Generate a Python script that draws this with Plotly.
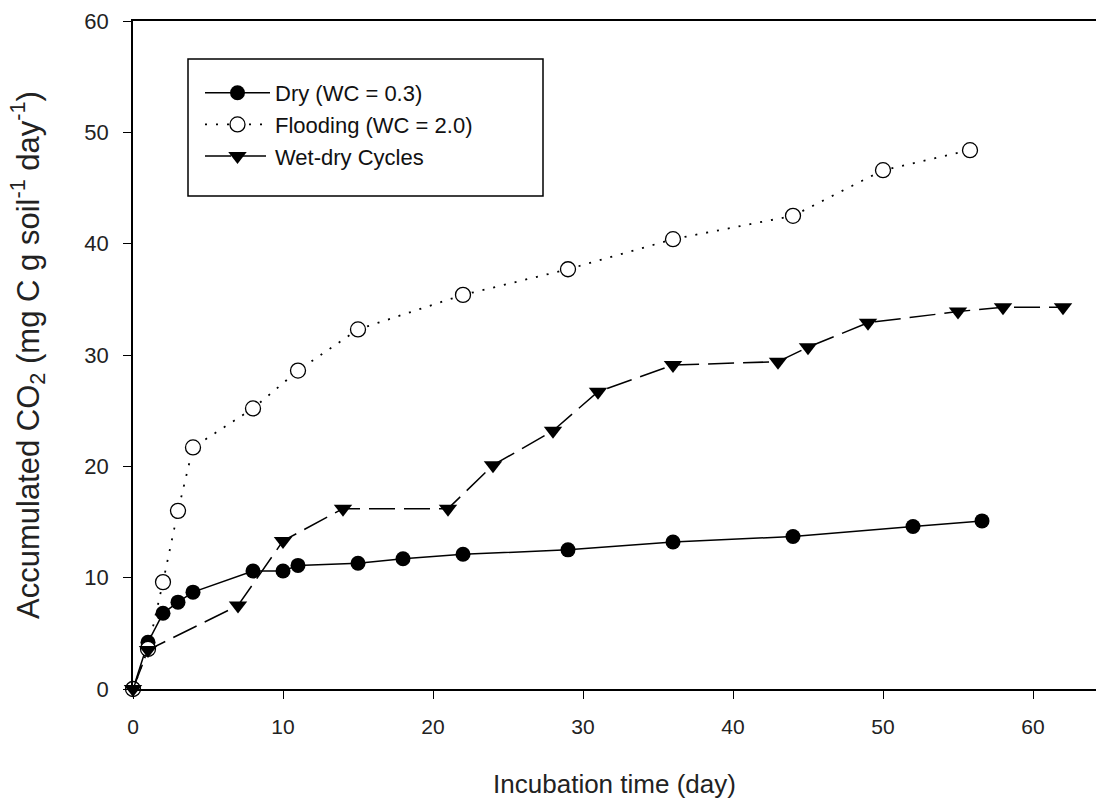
import plotly.graph_objects as go

# Data
dry_day = [0, 1, 2, 3, 4, 8, 10, 11, 15, 18, 22, 29, 36, 44, 52, 56.6]
dry_co2 = [0, 4.2, 6.8, 7.8, 8.7, 10.6, 10.6, 11.1, 11.3, 11.7, 12.1, 12.5, 13.2, 13.7, 14.6, 15.1]

flood_day = [0, 1, 2, 3, 4, 8, 11, 15, 22, 29, 36, 44, 50, 55.8]
flood_co2 = [0, 3.6, 9.6, 16.0, 21.7, 25.2, 28.6, 32.3, 35.4, 37.7, 40.4, 42.5, 46.6, 48.4]

wd_day = [0, 1, 7, 10, 14, 21, 24, 28, 31, 36, 43, 45, 49, 55, 58, 62]
wd_co2 = [0, 3.5, 7.5, 13.3, 16.2, 16.2, 20.1, 23.2, 26.7, 29.1, 29.4, 30.7, 32.9, 33.9, 34.3, 34.3]

x_ticks = [0, 10, 20, 30, 40, 50, 60]
y_ticks = [0, 10, 20, 30, 40, 50, 60]

FONT = "Liberation Sans, Arial, sans-serif"

fig = go.Figure()
fig.add_trace(go.Scatter(
    x=dry_day, y=dry_co2, mode="lines+markers", name="Dry (WC = 0.3)",
    line=dict(color="black", width=1.5, dash="solid"),
    marker=dict(symbol="circle", size=15, color="black"),
    cliponaxis=False, legendgroup="a"))
fig.add_trace(go.Scatter(
    x=flood_day, y=flood_co2, mode="lines+markers", name="Flooding (WC = 2.0)",
    line=dict(color="black", width=1.8, dash="2px,9px"),
    marker=dict(symbol="circle", size=15, color="white", line=dict(width=1.3, color="black")),
    cliponaxis=False, legendgroup="b"))
fig.add_trace(go.Scatter(
    x=wd_day, y=wd_co2, mode="lines+markers", name="Wet-dry Cycles",
    line=dict(color="black", width=1.5, dash="26px,9px"),
    marker=dict(symbol="triangle-down", size=16, color="black"),
    cliponaxis=False, legendgroup="c"))

W, H = 1096, 812
L, R, T, B = 133, 0, 21, 123
pw, ph = W - L - R, H - T - B

def px_x(p):
    return (p - L) / pw

def px_y(p):
    return (H - B - p) / ph

# legend frame
fig.add_shape(type="rect", xref="paper", yref="paper",
              x0=px_x(188), x1=px_x(543), y0=px_y(196), y1=px_y(59),
              line=dict(color="black", width=1.5), fillcolor="rgba(0,0,0,0)")

fig.update_layout(
    width=W, height=H,
    margin=dict(l=L, r=R, t=T, b=B, pad=0),
    paper_bgcolor="white", plot_bgcolor="white",
    font=dict(family=FONT, color="black", size=20),
    showlegend=True,
    legend=dict(x=px_x(200), y=px_y(72), xanchor="left", yanchor="top",
                bgcolor="rgba(0,0,0,0)", borderwidth=0,
                font=dict(family=FONT, size=22, color="#111"),
                itemwidth=65, tracegroupgap=2, traceorder="normal"),
    xaxis=dict(range=[0, 64.2], tickvals=x_ticks, ticktext=[str(v) for v in x_ticks],
               showline=True, linecolor="black", linewidth=1.5, mirror=True,
               ticks="outside", ticklen=8, tickwidth=1, tickcolor="black",
               ticklabelstandoff=10,
               showgrid=False, zeroline=False,
               tickfont=dict(family=FONT, size=21, color="#222"),
               title=dict(text="Incubation time (day)", standoff=38,
                          font=dict(family=FONT, size=26, color="#222"))),
    yaxis=dict(range=[0, 60], tickvals=y_ticks, ticktext=[str(v) for v in y_ticks],
               showline=True, linecolor="black", linewidth=1.5,
               ticks="outside", ticklen=8, tickwidth=1, tickcolor="black",
               ticklabelstandoff=10,
               showgrid=False, zeroline=False,
               tickfont=dict(family=FONT, size=22, color="#222"),
               title=dict(text="Accumulated CO<sub>2</sub> (mg C g soil<sup>-1</sup> day<sup>-1</sup>)",
                          standoff=36,
                          font=dict(family=FONT, size=31, color="#222"))),
)

fig.write_html("out.html")
